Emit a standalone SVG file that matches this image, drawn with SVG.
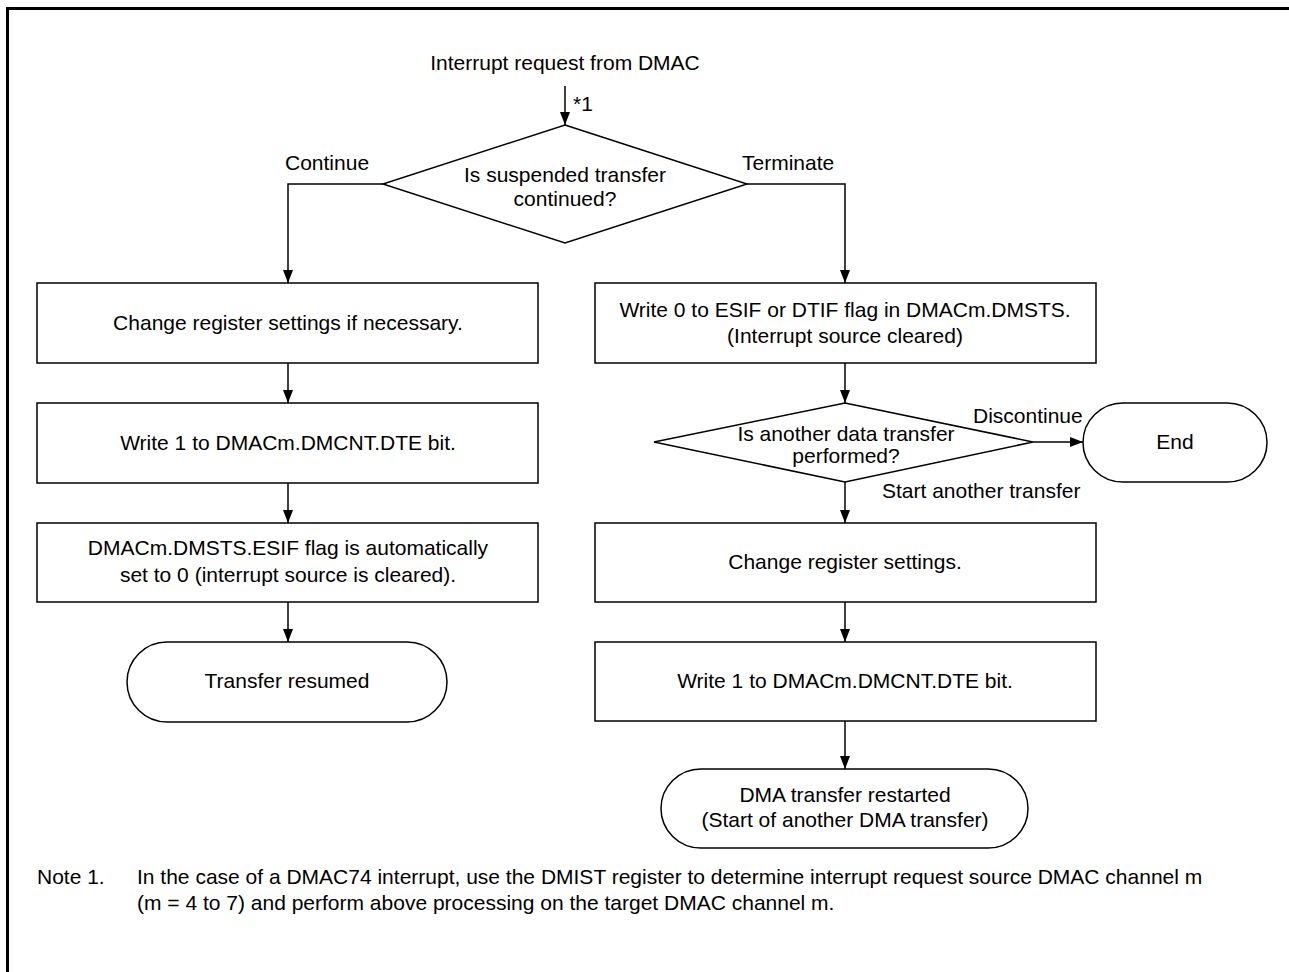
<svg xmlns="http://www.w3.org/2000/svg" width="1289" height="972" viewBox="0 0 1289 972">
<defs>
<style>
text{font-family:"Liberation Sans",Arial,sans-serif;font-size:21px;fill:#000}
.c{text-anchor:middle}
.shape{fill:#fff;stroke:#000;stroke-width:1.5}
.conn{fill:none;stroke:#000;stroke-width:1.5}
</style>
<marker id="arr" markerUnits="userSpaceOnUse" markerWidth="14" markerHeight="10" refX="13" refY="5" orient="auto">
<path d="M0,0 L13,5 L0,10 z" fill="#000"/>
</marker>
</defs>
<rect x="0" y="0" width="1289" height="972" fill="#fff"/>
<path d="M7.5,972 V8.5 H1289" fill="none" stroke="#000" stroke-width="3"/>

<g id="connectors">
<line class="conn" x1="565" y1="86" x2="565" y2="125" marker-end="url(#arr)"/>
<polyline class="conn" points="383,184 288,184 288,283" marker-end="url(#arr)"/>
<polyline class="conn" points="747,184 845,184 845,283" marker-end="url(#arr)"/>
<line class="conn" x1="288" y1="363" x2="288" y2="403" marker-end="url(#arr)"/>
<line class="conn" x1="288" y1="483" x2="288" y2="523" marker-end="url(#arr)"/>
<line class="conn" x1="288" y1="602" x2="288" y2="642" marker-end="url(#arr)"/>
<line class="conn" x1="845" y1="363" x2="845" y2="403" marker-end="url(#arr)"/>
<line class="conn" x1="1033" y1="442" x2="1083" y2="442" marker-end="url(#arr)"/>
<line class="conn" x1="845" y1="482" x2="845" y2="523" marker-end="url(#arr)"/>
<line class="conn" x1="845" y1="602" x2="845" y2="642" marker-end="url(#arr)"/>
<line class="conn" x1="845" y1="721" x2="845" y2="769" marker-end="url(#arr)"/>
<text x="573" y="111">*1</text>
<text x="285" y="170">Continue</text>
<text x="742" y="170">Terminate</text>
<text x="973" y="423">Discontinue</text>
<text x="882" y="498">Start another transfer</text>
</g>

<g id="start">
<text class="c" x="565" y="70">Interrupt request from DMAC</text>
</g>

<g id="decision1">
<polygon class="shape" points="565,125 747,184 565,243 383,184"/>
<text class="c" x="565" y="182">Is suspended transfer</text>
<text class="c" x="565" y="206">continued?</text>
</g>

<g id="box-change-if-necessary">
<rect class="shape" x="37" y="283" width="501" height="80"/>
<text class="c" x="288" y="330">Change register settings if necessary.</text>
</g>

<g id="box-write1-left">
<rect class="shape" x="37" y="403" width="501" height="80"/>
<text class="c" x="288" y="450">Write 1 to DMACm.DMCNT.DTE bit.</text>
</g>

<g id="box-esif-auto">
<rect class="shape" x="37" y="523" width="501" height="79"/>
<text class="c" x="288" y="555">DMACm.DMSTS.ESIF flag is automatically</text>
<text class="c" x="288" y="582">set to 0 (interrupt source is cleared).</text>
</g>

<g id="term-resumed">
<rect class="shape" x="127" y="642" width="320" height="80" rx="40" ry="40"/>
<text class="c" x="287" y="688">Transfer resumed</text>
</g>

<g id="box-write0">
<rect class="shape" x="595" y="283" width="501" height="80"/>
<text class="c" x="845" y="317">Write 0 to ESIF or DTIF flag in DMACm.DMSTS.</text>
<text class="c" x="845" y="343">(Interrupt source cleared)</text>
</g>

<g id="decision2">
<polygon class="shape" points="845,403 1033,442 845,482 654,442"/>
<text class="c" x="846" y="441">Is another data transfer</text>
<text class="c" x="846" y="463">performed?</text>
</g>

<g id="term-end">
<rect class="shape" x="1083" y="403" width="184" height="79" rx="40" ry="40"/>
<text class="c" x="1175" y="449">End</text>
</g>

<g id="box-change">
<rect class="shape" x="595" y="523" width="501" height="79"/>
<text class="c" x="845" y="569">Change register settings.</text>
</g>

<g id="box-write1-right">
<rect class="shape" x="595" y="642" width="501" height="79"/>
<text class="c" x="845" y="688">Write 1 to DMACm.DMCNT.DTE bit.</text>
</g>

<g id="term-restarted">
<rect class="shape" x="661" y="769" width="367" height="79" rx="40" ry="40"/>
<text class="c" x="845" y="802">DMA transfer restarted</text>
<text class="c" x="845" y="827">(Start of another DMA transfer)</text>
</g>

<g id="note">
<text x="37" y="884">Note 1.</text>
<text x="137" y="884">In the case of a DMAC74 interrupt, use the DMIST register to determine interrupt request source DMAC channel m</text>
<text x="137" y="910">(m = 4 to 7) and perform above processing on the target DMAC channel m.</text>
</g>
</svg>
